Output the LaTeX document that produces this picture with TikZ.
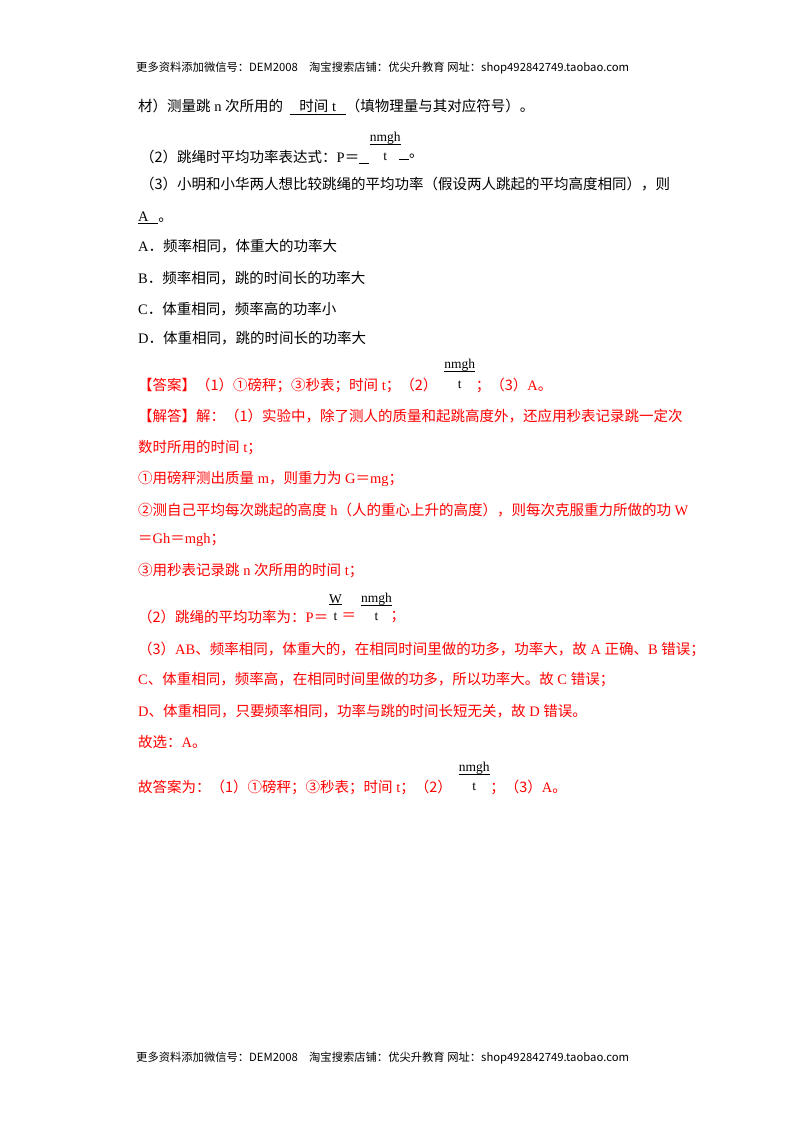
\documentclass[tikz,border=0pt]{standalone}
\usepackage{fontspec}
\setmainfont{Noto Sans CJK SC}
\newfontfamily\serifl{Liberation Serif}
\begin{document}
\begin{tikzpicture}[x=1pt,y=-1pt,
 ln/.style={anchor=west,inner sep=0pt,font=\fontsize{14.5}{16}\selectfont},
 rd/.style={ln,text=red},
 hd/.style={anchor=west,inner sep=0pt,font=\fontsize{11.3}{12}\selectfont},
 fr/.style={inner sep=0pt,font=\serifl\fontsize{13.5}{14}\selectfont}]
\useasboundingbox (0,0) rectangle (800,1132);
\fill[white] (0,0) rectangle (800,1132);
\node[hd] (h1) at (136,68) {更多资料添加微信号：DEM2008\quad 淘宝搜索店铺：优尖升教育\ 网址：shop492842749.taobao.com};
\node[hd] (h2) at (136,1058) {更多资料添加微信号：DEM2008\quad 淘宝搜索店铺：优尖升教育\ 网址：shop492842749.taobao.com};
\node[ln] (l1) at (138,107) {材）测量跳{\serifl\ n\ }次所用的\ \ \underline{\ \ \ 时间{\serifl\ t}\ \ \ }（填物理量与其对应符号）。};
\node[ln] (l2) at (140,157) {（2）跳绳时平均功率表达式：{\serifl P}＝\underline{\ \ \ }};
\node[fr] (f1d) at ([xshift=16pt]l2.east) {t};
\node[fr] (f1n) at ([yshift=19pt]f1d.center) {nmgh};
\draw (f1n.south west) -- (f1n.south east);
\node[ln] (l2b) at ([xshift=14pt]f1d.center) {\underline{\ \ \ }。};
\node[ln] (l3) at (140,184) {（3）小明和小华两人想比较跳绳的平均功率（假设两人跳起的平均高度相同），则};
\node[ln] (l4) at (138,218) {\underline{{\serifl A}\ \ \ }。};
\node[ln] (l5) at (138,246) {{\serifl A}．频率相同，体重大的功率大};
\node[ln] (l6) at (138,278) {{\serifl B}．频率相同，跳的时间长的功率大};
\node[ln] (l7) at (138,309) {{\serifl C}．体重相同，频率高的功率小};
\node[ln] (l8) at (138,338) {{\serifl D}．体重相同，跳的时间长的功率大};
\node[rd] (a1) at (138,385) {【答案】（1）①磅秤；③秒表；时间{\serifl\ t}；（2）};
\node[fr] (f2d) at ([xshift=22pt]a1.east) {t};
\node[fr] (f2n) at ([yshift=20pt]f2d.center) {nmgh};
\draw (f2n.south west) -- (f2n.south east);
\node[rd] (a1b) at ([xshift=16pt]f2d.center) {；（3）{\serifl A}。};
\node[rd] (a2) at (138,416) {【解答】解：（1）实验中，除了测人的质量和起跳高度外，还应用秒表记录跳一定次};
\node[rd] (a3) at (138,448) {数时所用的时间{\serifl\ t}；};
\node[rd] (a4) at (138,479) {①用磅秤测出质量{\serifl\ m}，则重力为{\serifl\ G}＝{\serifl mg}；};
\node[rd] (a5) at (138,510) {②测自己平均每次跳起的高度{\serifl\ h}（人的重心上升的高度），则每次克服重力所做的功{\serifl\ W}};
\node[rd] (a6) at (138,540) {＝{\serifl Gh}＝{\serifl mgh}；};
\node[rd] (a7) at (138,571) {③用秒表记录跳{\serifl\ n\ }次所用的时间{\serifl\ t}；};
\node[rd] (a8) at (138,617) {（2）跳绳的平均功率为：{\serifl P}＝};
\node[fr] (f3d) at ([xshift=7pt]a8.east) {t};
\node[fr] (f3n) at ([yshift=18pt]f3d.center) {W};
\draw (f3n.south west) -- (f3n.south east);
\node[rd] (a8b) at ([xshift=6pt]f3d.center) {＝};
\node[fr] (f4d) at ([xshift=20pt]a8b.east) {t};
\node[fr] (f4n) at ([yshift=18pt]f4d.center) {nmgh};
\draw (f4n.south west) -- (f4n.south east);
\node[rd] (a8c) at ([xshift=14pt]f4d.center) {；};
\node[rd] (a9) at (138,649) {（3）{\serifl AB}、频率相同，体重大的，在相同时间里做的功多，功率大，故{\serifl\ A\ }正确、{\serifl B\ }错误；};
\node[rd] (a10) at (138,680) {{\serifl C}、体重相同，频率高，在相同时间里做的功多，所以功率大。故{\serifl\ C\ }错误；};
\node[rd] (a11) at (138,711) {{\serifl D}、体重相同，只要频率相同，功率与跳的时间长短无关，故{\serifl\ D\ }错误。};
\node[rd] (a12) at (138,742) {故选：{\serifl A}。};
\node[rd] (a13) at (138,787) {故答案为：（1）①磅秤；③秒表；时间{\serifl\ t}；（2）};
\node[fr] (f5d) at ([xshift=22pt]a13.east) {t};
\node[fr] (f5n) at ([yshift=19pt]f5d.center) {nmgh};
\draw (f5n.south west) -- (f5n.south east);
\node[rd] (a13b) at ([xshift=16pt]f5d.center) {；（3）{\serifl A}。};
\end{tikzpicture}
\end{document}
